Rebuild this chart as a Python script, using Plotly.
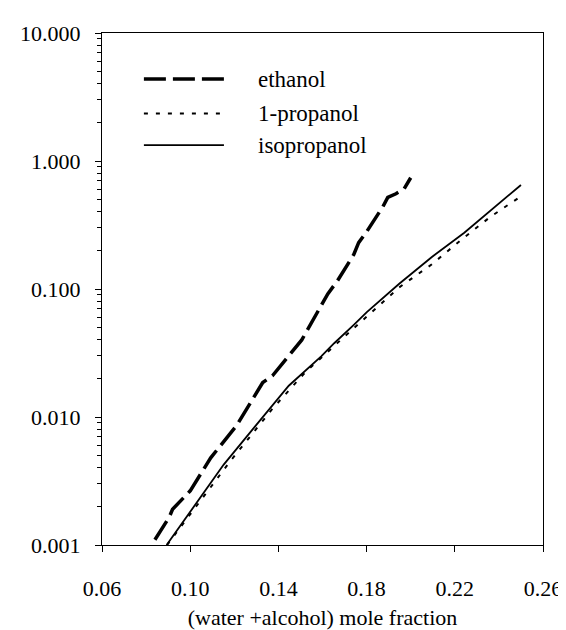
import plotly.graph_objects as go

# ---- data ----
ethanol_x = [0.084, 0.0905, 0.092, 0.100, 0.1093, 0.1211, 0.1329, 0.1373, 0.1506, 0.1565,
             0.1624, 0.1668, 0.1742, 0.1764, 0.180, 0.1874, 0.1896, 0.1933, 0.197, 0.200]
ethanol_y = [0.0011, 0.00165, 0.0019, 0.00265, 0.0048, 0.0086, 0.0186, 0.021, 0.040, 0.0605,
             0.0916, 0.116, 0.186, 0.23, 0.28, 0.44, 0.52, 0.555, 0.605, 0.74]

propanol_x = [0.0895, 0.1034, 0.1181, 0.1373, 0.152, 0.1683, 0.1801, 0.1948, 0.2096, 0.223, 0.2361, 0.25]
propanol_y = [0.001, 0.0021, 0.0045, 0.0116, 0.0222, 0.040, 0.0605, 0.103, 0.156, 0.243, 0.366, 0.53]

isoprop_x = [0.0893, 0.1004, 0.1152, 0.1299, 0.1447, 0.1594, 0.1653, 0.1742, 0.1801, 0.1948,
             0.2096, 0.2243, 0.2361, 0.25]
isoprop_y = [0.001, 0.00186, 0.00425, 0.00863, 0.01755, 0.0298, 0.0377, 0.0525, 0.066, 0.110,
             0.178, 0.275, 0.41, 0.65]

series_names = ["ethanol", "1-propanol", "isopropanol"]
y_tickvals = [0.001, 0.01, 0.1, 1, 10]
y_ticktext = ["0.001", "0.010", "0.100", "1.000", "10.000"]
x_tickvals = [0.06, 0.10, 0.14, 0.18, 0.22, 0.26]
x_title = "(water +alcohol) mole fraction"

FONT = "Liberation Serif"
styles = [
    dict(color="black", width=3.5, dash="22px,7px"),
    dict(color="black", width=2, dash="4px,8px"),
    dict(color="black", width=1.8, dash="solid"),
]

fig = go.Figure()
for (xs, ys), name, st in zip([(ethanol_x, ethanol_y), (propanol_x, propanol_y), (isoprop_x, isoprop_y)],
                              series_names, styles):
    fig.add_trace(go.Scatter(x=xs, y=ys, mode="lines", name=name, line=st, showlegend=False))

# manual legend (long line samples like the original)
leg_y = [0.91, 0.843, 0.781]
for name, st, yy in zip(series_names, styles, leg_y):
    fig.add_shape(type="line", xref="paper", yref="paper", x0=0.095, x1=0.2765, y0=yy, y1=yy,
                  line=dict(color="black", width=st["width"], dash=st["dash"]))
    fig.add_annotation(xref="paper", yref="paper", x=0.35, y=yy, text=name, showarrow=False,
                       xanchor="left", yanchor="middle", font=dict(family=FONT, size=23, color="black"))

minor_vals = [m * 10.0 ** e for e in range(-3, 1) for m in range(2, 10)]

fig.update_layout(
    width=566, height=630,
    margin=dict(l=92, r=22, t=25, b=84),
    plot_bgcolor="white", paper_bgcolor="white",
    font=dict(family=FONT, size=22, color="black"),
    showlegend=False,
)
fig.update_xaxes(
    range=[0.06, 0.26], tickvals=x_tickvals, tickformat=".2f",
    showgrid=False, zeroline=False,
    showline=True, linecolor="black", linewidth=1.3, mirror=True,
    ticks="outside", ticklen=6, tickcolor="black", tickwidth=1.3,
    ticklabelstandoff=17,
    tickfont=dict(family=FONT, size=22, color="black"),
    title=dict(text=x_title, font=dict(family=FONT, size=22, color="black"), standoff=10),
)
fig.update_yaxes(
    type="log", range=[-3, 1], tickvals=y_tickvals, ticktext=y_ticktext,
    showgrid=False, zeroline=False,
    showline=True, linecolor="black", linewidth=1.3, mirror=True,
    ticks="outside", ticklen=6, tickcolor="black", tickwidth=1.3,
    ticklabelstandoff=10,
    tickfont=dict(family=FONT, size=22, color="black"),
    minor=dict(tickvals=minor_vals, ticks="outside", ticklen=4, tickcolor="black", tickwidth=1.2, showgrid=False),
)

fig.write_html("out.html")
